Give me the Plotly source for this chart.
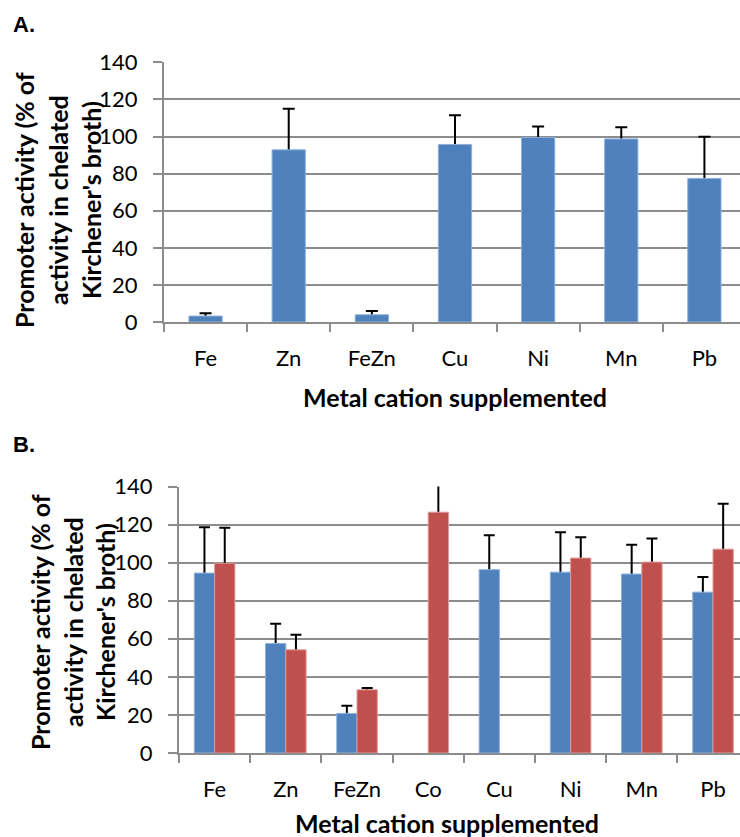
import plotly.graph_objects as go

# ---- data -------------------------------------------------------------
cats_a = ["Fe", "Zn", "FeZn", "Cu", "Ni", "Mn", "Pb"]
vals_a = [3.2, 92.8, 3.9, 95.7, 99.5, 98.7, 77.4]
err_a = [1.5, 22.1, 2.0, 15.8, 5.9, 6.3, 22.4]

cats_b = ["Fe", "Zn", "FeZn", "Co", "Cu", "Ni", "Mn", "Pb"]
blue_b = [94.5, 57.5, 20.8, None, 96.3, 95.0, 94.0, 84.5]
blue_err_b = [24.1, 10.4, 4.0, None, 18.1, 21.0, 15.4, 7.9]
red_b = [99.7, 54.2, 33.2, 126.5, None, 102.4, 100.3, 107.1]
red_err_b = [18.6, 7.9, 1.0, 25.0, None, 11.0, 12.4, 23.8]

y_ticks = [0, 20, 40, 60, 80, 100, 120, 140]

y_title_lines = ["Promoter activity (% of", "activity in chelated",
                 "Kirchener's broth)"]
x_title = "Metal cation supplemented"

# ---- styling ----------------------------------------------------------
W, H = 740, 837
BLUE, BLUE_EDGE = "#4F81BD", "#8DB0DC"
RED, RED_EDGE = "#C0504D", "#DE9A98"
GRID = "#8C8C8C"
FONT = "Lato"


def fx(px):
    return px / W


def fy(py):
    return 1 - py / H


fig = go.Figure()


def add_bars(x, y, err, color, edge, xa, ya, width, offset, cap):
    # transparent carrier for the error bars; its whisker runs down to the
    # baseline and is hidden by the coloured bar drawn over it
    fig.add_trace(go.Bar(
        x=x, y=y, xaxis=xa, yaxis=ya, width=width, offset=offset,
        marker=dict(color="rgba(0,0,0,0)", line=dict(width=0)),
        error_y=dict(type="data", symmetric=False, array=err,
                     arrayminus=y, color="black", thickness=2, width=cap),
        showlegend=False, hoverinfo="skip",
    ))
    fig.add_trace(go.Bar(
        x=x, y=y, xaxis=xa, yaxis=ya, width=width, offset=offset,
        marker=dict(color=color, line=dict(color=edge, width=1)),
        showlegend=False,
    ))


# panel A
add_bars(cats_a, vals_a, err_a, BLUE, BLUE_EDGE, "x", "y", 0.4, -0.2, 6)
# panel B
add_bars(cats_b, blue_b, blue_err_b, BLUE, BLUE_EDGE, "x2", "y2",
         0.285, -0.285, 5.5)
add_bars(cats_b, red_b, red_err_b, RED, RED_EDGE, "x2", "y2",
         0.285, 0.0, 5.5)

xaxis_common = dict(
    type="category", showgrid=False, showline=True, linecolor=GRID,
    linewidth=2, ticks="outside", tickson="boundaries", ticklen=8,
    tickwidth=2, tickcolor=GRID,
    tickfont=dict(family=FONT, size=22, color="black"),
    ticklabelstandoff=16, zeroline=False, fixedrange=True,
    automargin=False,
)
yaxis_common = dict(
    range=[0, 140], tickvals=y_ticks, showgrid=True, gridcolor=GRID,
    gridwidth=2, showline=True, linecolor=GRID, linewidth=2,
    ticks="outside", ticklen=9, tickwidth=2, tickcolor=GRID,
    tickfont=dict(family=FONT, size=22, color="black"),
    ticklabelstandoff=11, zeroline=False, fixedrange=True,
    automargin=False,
)

fig.update_layout(
    width=W, height=H,
    margin=dict(l=0, r=0, t=0, b=0, pad=0, autoexpand=False),
    paper_bgcolor="white", plot_bgcolor="white", barmode="overlay",
    xaxis=dict(xaxis_common, domain=[fx(164), 1], range=[-0.5, 6.428],
               categoryorder="array", categoryarray=cats_a, anchor="y"),
    yaxis=dict(yaxis_common, domain=[fy(322), fy(62.3)], anchor="x"),
    xaxis2=dict(xaxis_common, domain=[fx(179), 1], range=[-0.5, 7.379],
                categoryorder="array", categoryarray=cats_b, anchor="y2"),
    yaxis2=dict(yaxis_common, domain=[fy(753), fy(486.5)], anchor="x2"),
)

ann = []
# panel letters
for label, ypx in [("A.", 24), ("B.", 444.5)]:
    ann.append(dict(text=label, x=fx(11), y=fy(ypx), xref="paper",
                    yref="paper", xanchor="left", yanchor="middle",
                    showarrow=False,
                    font=dict(family="Liberation Sans", size=22,
                              color="black", weight="bold")))
# y-axis titles, one annotation per line
for xs, ypx in [((24, 58, 91), 200), ((40, 73, 105), 622)]:
    for line, xpx in zip(y_title_lines, xs):
        ann.append(dict(text=line, x=fx(xpx), y=fy(ypx), xref="paper",
                        yref="paper", xanchor="center", yanchor="middle",
                        textangle=-90, showarrow=False,
                        font=dict(family=FONT, size=25, color="black",
                                  weight="bold")))
# x-axis titles
for xpx, ypx in [(455, 397), (447, 823)]:
    ann.append(dict(text=x_title, x=fx(xpx), y=fy(ypx), xref="paper",
                    yref="paper", xanchor="center", yanchor="middle",
                    showarrow=False,
                    font=dict(family=FONT, size=25, color="black",
                              weight="bold")))
fig.update_layout(annotations=ann)

fig.write_html("out.html")
